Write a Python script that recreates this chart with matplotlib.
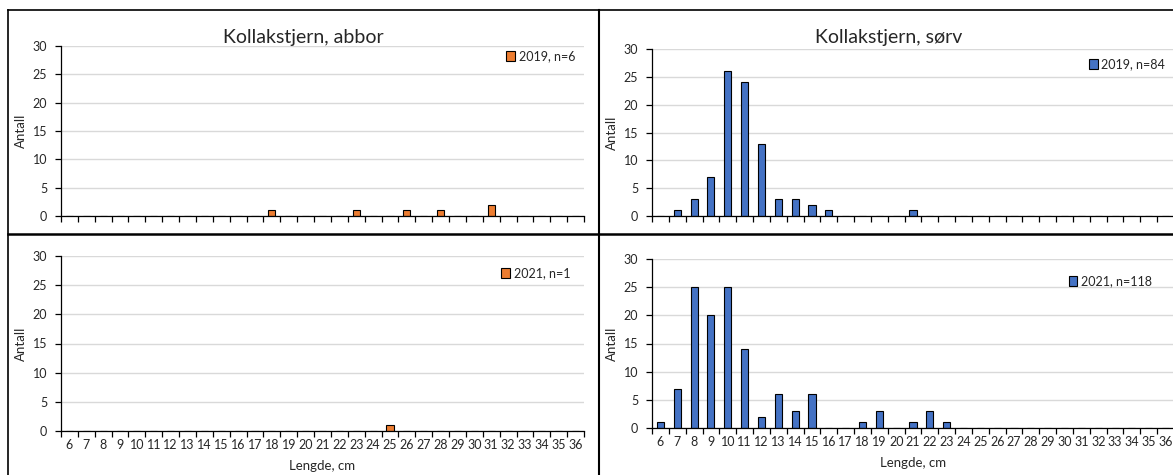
import matplotlib.pyplot as plt
import numpy as np
from matplotlib.lines import Line2D

plt.rcParams['font.family'] = ['Lato', 'DejaVu Sans']

# lengdeklasser, cm
lengths = list(range(6, 37))

abbor_2019 = [0, 0, 0, 0, 0, 0, 0, 0, 0, 0, 0, 0, 1, 0, 0, 0,
              0, 1, 0, 0, 1, 0, 1, 0, 0, 2, 0, 0, 0, 0, 0]
abbor_2021 = [0, 0, 0, 0, 0, 0, 0, 0, 0, 0, 0, 0, 0, 0, 0, 0,
              0, 0, 0, 1, 0, 0, 0, 0, 0, 0, 0, 0, 0, 0, 0]
sorv_2019 = [0, 1, 3, 7, 26, 24, 13, 3, 3, 2, 1, 0, 0, 0, 0, 1,
             0, 0, 0, 0, 0, 0, 0, 0, 0, 0, 0, 0, 0, 0, 0]
sorv_2021 = [1, 7, 25, 20, 25, 14, 2, 6, 3, 6, 0, 0, 1, 3, 0, 1,
             3, 1, 0, 0, 0, 0, 0, 0, 0, 0, 0, 0, 0, 0, 0]

titles = ['Kollakstjern, abbor', 'Kollakstjern, sørv']
legend_labels = ['2019, n=6', '2019, n=84', '2021, n=1', '2021, n=118']

orange = '#ED7D31'
blue = '#4472C4'

W, H = 1173, 475
fig = plt.figure(figsize=(W / 100, H / 100), dpi=100)


def px_axes(x0, x1, ytop, ybot):
    return fig.add_axes([x0 / W, 1 - ybot / H, (x1 - x0) / W, (ybot - ytop) / H])


# plasseringer i piksler: (venstre, høyre, y for 30, y for 0)
boxes = [(61, 584, 46, 216), (652, 1174, 49, 216),
         (61, 584, 256, 431), (652, 1174, 259, 428)]
series = [abbor_2019, sorv_2019, abbor_2021, sorv_2021]
colors = [orange, blue, orange, blue]
legend_pos = [(1.0, 1.025), (1.0, 0.995), (0.99, 0.985), (0.975, 0.955)]

x = np.arange(len(lengths))
for i, (box, vals, col, lab) in enumerate(zip(boxes, series, colors, legend_labels)):
    ax = px_axes(*box)
    ax.bar(x, vals, width=0.42, color=col, edgecolor='black', linewidth=0.8,
           label=lab, zorder=3)
    ax.set_xlim(-0.5, len(lengths) - 0.5)
    ax.set_ylim(0, 30)
    ax.set_yticks(range(0, 31, 5))
    ax.grid(axis='y', color='#d9d9d9', linewidth=1, zorder=0)
    for s in ['top', 'right']:
        ax.spines[s].set_visible(False)
    for s in ['left', 'bottom']:
        ax.spines[s].set_linewidth(0.9)
        ax.spines[s].set_zorder(4)
    ax.set_xticks(np.arange(-0.5, len(lengths), 1))
    ax.set_xticklabels([])
    ax.tick_params(axis='x', which='major', length=4, width=0.9, direction='out')
    ax.tick_params(axis='y', length=4, width=0.9, labelsize=9, colors='black',
                   labelcolor='#262626', pad=6)
    if i >= 2:
        ax.set_xticks(x, minor=True)
        ax.set_xticklabels([str(v) for v in lengths], minor=True)
        ax.tick_params(axis='x', which='minor', length=0, labelsize=9,
                       labelcolor='#262626', pad=6)
        ax.set_xlabel('Lengde, cm', fontsize=9.5, labelpad=6, color='#262626')
    ax.set_ylabel('Antall', fontsize=9.5, labelpad=4, color='#262626')
    ax.legend(loc='upper right', bbox_to_anchor=legend_pos[i], frameon=False,
              fontsize=9, handlelength=0.7, handleheight=0.9,
              handletextpad=0.3, borderpad=0.2, labelcolor='#262626')

# titler sentrert over hvert diagramfelt
fig.text(303 / W, 1 - 38 / H, titles[0], ha='center', va='center', fontsize=14,
         color='#262626')
fig.text(889 / W, 1 - 38 / H, titles[1], ha='center', va='center', fontsize=14,
         color='#262626')

# rammer rundt feltene
def fig_line(xs, ys, lw):
    fig.add_artist(Line2D([v / W for v in xs], [1 - v / H for v in ys],
                          color='black', linewidth=lw))


fig_line([8, 8], [10, 475], 1.2)
fig_line([8, 1173], [10, 10], 1.2)
fig_line([599, 599], [10, 475], 1.5)
fig_line([8, 1173], [234, 234], 1.8)

fig.savefig('out.png', dpi=100)
